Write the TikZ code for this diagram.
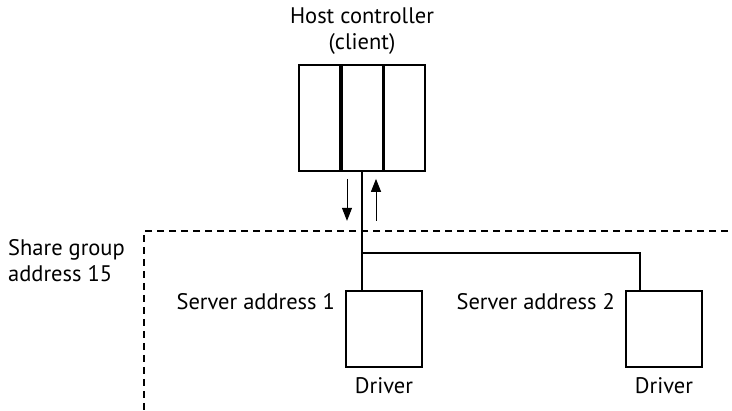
\documentclass[tikz,border=0pt]{standalone}
\usepackage{fontspec}
\setmainfont{PT Sans}
\usetikzlibrary{positioning}
\usetikzlibrary{arrows.meta}

\begin{document}
\begin{tikzpicture}[
			     x=1pt, y=-1pt,
			     >={Triangle[length=13pt,width=10pt]},
			     cell/.style={draw, line width=1.7pt, minimum width=40.7pt, minimum height=106pt, inner sep=0pt},
			     drivebox/.style={draw, line width=1.7pt, minimum width=76pt, minimum height=76pt, inner sep=0pt},
			     txt/.style={font=\fontsize{22.5}{26}\selectfont, inner sep=0pt},
			     bus line/.style={line width=1.7pt},
			     flow/.style={->, line width=1pt},
			     group line/.style={line width=2pt, dash pattern=on 7pt off 5pt}
			     ]
\useasboundingbox (0,0) rectangle (732,411);
% host controller
\node[cell] (host-c) at (362,118) {};
\node[cell, left=0pt of host-c] (host-l) {};
\node[cell, right=0pt of host-c] (host-r) {};
\node[txt, align=center, anchor=south] (host-lbl) at ([yshift=9pt]host-c.north) {Host controller\\(client)};
%
% drivers
\node[drivebox] (drv1) at (384,329) {};
\node[drivebox] (drv2) at (664,329) {};
\node[txt, anchor=base east] (srv1) at ([xshift=-10pt,yshift=-19pt]drv1.north west) {Server address 1};
\node[txt, anchor=base east] (srv2) at ([xshift=-10pt,yshift=-19pt]drv2.north west) {Server address 2};
\node[txt, anchor=base] (drv1-lbl) at ([yshift=-26pt]drv1.south) {Driver};
\node[txt, anchor=base] (drv2-lbl) at ([yshift=-26pt]drv2.south) {Driver};
%
% share group
\draw[group line] (740,231) -- (144,231) -- (144,420);
\node[txt, align=left, anchor=north west] (grp) at (8,239) {Share group\\address 15};
%
% bus
\coordinate (bus) at (host-c.south |- 0,253);
\draw[bus line] (host-c.south) -- (host-c.south |- drv1.north);
\draw[bus line] (bus) -| ([xshift=15pt]drv2.north west);
%
\coordinate (down-a) at ([xshift=-15pt,yshift=-7pt]host-c.south);
\coordinate (up-a) at ([xshift=14pt,yshift=-49pt]host-c.south);
\draw[flow] (down-a) -- ++(0,42);
\draw[flow] (up-a) -- ++(0,-42);
\end{tikzpicture}
\end{document}
